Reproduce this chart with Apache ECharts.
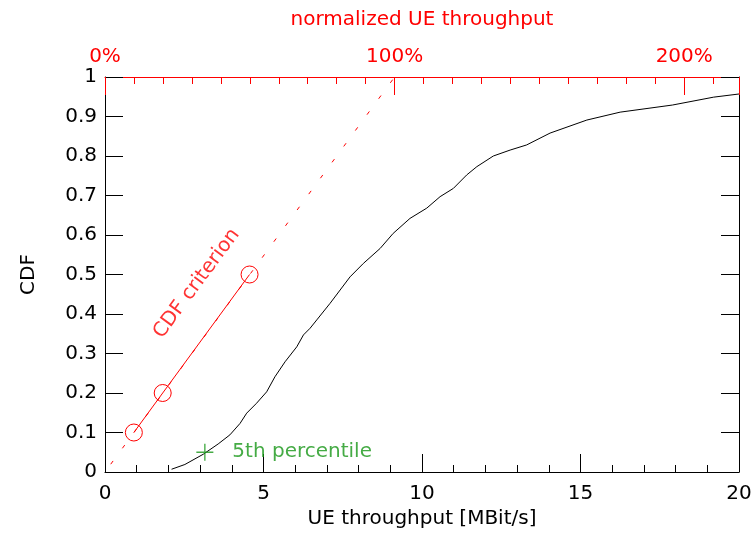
<!DOCTYPE html>
<html>
<head>
<meta charset="utf-8">
<script src="https://cdn.jsdelivr.net/npm/echarts@6/dist/echarts.min.js"></script>
<style>html,body{margin:0;padding:0;background:#fff}#c{width:755px;height:546px}</style>
</head>
<body>
<div id="c"></div>
<script>
// ---- data ----
const cdfX = [2.10, 2.52, 3.10, 3.57, 3.94, 4.26, 4.47, 4.78, 5.10, 5.36, 5.68, 6.05, 6.26, 6.47, 6.68, 7.10, 7.73, 8.15, 8.68, 9.09, 9.62, 10.15, 10.57, 10.99, 11.41, 11.73, 12.25, 12.78, 13.3, 14.04, 15.2, 16.25, 17.9, 19.2, 20.0];
const cdfY = [0.007, 0.019, 0.045, 0.071, 0.094, 0.123, 0.149, 0.174, 0.203, 0.241, 0.279, 0.317, 0.347, 0.364, 0.385, 0.427, 0.494, 0.528, 0.566, 0.604, 0.642, 0.668, 0.697, 0.718, 0.752, 0.773, 0.800, 0.815, 0.828, 0.858, 0.891, 0.911, 0.929, 0.949, 0.957];
const reference100 = 9.136;          // MBit/s corresponding to 100% normalized throughput
const criterionX = [0.91, 1.82, 4.56];
const criterionY = [0.1, 0.2, 0.5];
const criterionLineX = [0, reference100];
const criterionLineY = [0, 1];
const percentile5 = [3.15, 0.05];
const criterionLabelAt = [2.89, 0.477];
const xMax = 20;
const topMax = xMax / reference100 * 100;

const font = 'DejaVu Sans';
const fs = 20;
const green = '#169616';
const zip = (a, b) => a.map((v, i) => [v, b[i]]);

// layout of the plot rectangle
const W = 755, H = 546;
const L = 105, R = 16, T = 77, B = 74;
const plotW = W - L - R;
const pxPerPct = plotW / topMax;
const mainGrid = {left: L, right: R, top: T, bottom: B, containLabel: false};
// helper grids that carry the 10% minor ticks of the top axis
const minorGridA = {left: L, width: 200 * pxPerPct, top: T, bottom: B, containLabel: false};
const minorGridB = {left: L + 200 * pxPerPct, width: 20 * pxPerPct, top: T, bottom: B, containLabel: false};

const minorTopAxis = (grid, mn, mx, iv, split) => ({
  type: 'value', gridIndex: grid, position: 'top', min: mn, max: mx, interval: iv,
  axisLine: {show: false, onZero: false},
  axisTick: {show: false, inside: true},
  minorTick: {show: true, splitNumber: split, length: 7, lineStyle: {color: 'red', width: 1}},
  axisLabel: {show: false},
  splitLine: {show: false}, minorSplitLine: {show: false}
});
const hiddenY = grid => ({
  type: 'value', gridIndex: grid, position: 'left', min: 0, max: 1,
  axisLine: {show: false}, axisTick: {show: false}, axisLabel: {show: false}, splitLine: {show: false}
});

const chart = echarts.init(document.getElementById('c'), null, {renderer: 'canvas'});
chart.setOption({
  animation: false,
  backgroundColor: '#fff',
  textStyle: {fontFamily: font},
  grid: [mainGrid, minorGridA, minorGridB],
  xAxis: [
    {
      type: 'value', gridIndex: 0, position: 'bottom', min: 0, max: xMax, interval: 5,
      name: 'UE throughput [MBit/s]', nameLocation: 'middle', nameGap: 37,
      nameTextStyle: {fontSize: fs, color: '#000', fontFamily: font},
      axisLine: {show: true, onZero: false, lineStyle: {color: '#000', width: 1}},
      axisTick: {show: true, inside: true, length: 18, lineStyle: {color: '#000'}},
      minorTick: {show: true, splitNumber: 5, length: 7, lineStyle: {color: '#000'}},
      axisLabel: {fontSize: fs, color: '#000', margin: 12, fontFamily: font},
      splitLine: {show: false}
    },
    {
      type: 'value', gridIndex: 0, position: 'top', min: 0, max: topMax, interval: 100,
      name: 'normalized UE throughput', nameLocation: 'middle', nameGap: 47,
      nameTextStyle: {fontSize: fs, color: 'red', fontFamily: font},
      axisLine: {show: true, onZero: false, lineStyle: {color: 'red', width: 1}},
      axisTick: {show: true, inside: true, length: 18, lineStyle: {color: 'red'}},
      axisLabel: {fontSize: fs, color: 'red', margin: 10, fontFamily: font,
        formatter: v => (Math.abs(v % 100) < 1e-6 ? v + '%' : '')},
      splitLine: {show: false}
    },
    minorTopAxis(1, 0, 200, 100, 10),
    minorTopAxis(2, 200, 220, 20, 2)
  ],
  yAxis: [
    {
      type: 'value', gridIndex: 0, position: 'left', min: 0, max: 1, interval: 0.1,
      name: 'CDF', nameLocation: 'middle', nameGap: 66, nameRotate: 90,
      nameTextStyle: {fontSize: fs, color: '#000', fontFamily: font},
      axisLine: {show: true, onZero: false, lineStyle: {color: '#000', width: 1}},
      axisTick: {show: true, inside: true, length: 18, lineStyle: {color: '#000'}},
      axisLabel: {fontSize: fs, color: '#000', margin: 8, fontFamily: font,
        formatter: v => String(Math.round(v * 10) / 10)},
      splitLine: {show: false}
    },
    {
      type: 'value', gridIndex: 0, position: 'right', min: 0, max: 1, interval: 0.1,
      axisLine: {show: true, onZero: false, lineStyle: {color: '#000', width: 1}},
      axisTick: {show: true, inside: true, length: 18, lineStyle: {color: '#000'}},
      axisLabel: {show: false},
      splitLine: {show: false}
    },
    hiddenY(1),
    hiddenY(2)
  ],
  series: [
    {
      type: 'line', xAxisIndex: 0, yAxisIndex: 0,
      data: zip(cdfX, cdfY), showSymbol: false, symbol: 'none',
      lineStyle: {color: '#000', width: 1}, z: 3
    },
    {
      type: 'line', xAxisIndex: 0, yAxisIndex: 0,
      data: zip(criterionLineX, criterionLineY), symbol: 'none',
      lineStyle: {color: 'red', width: 1, type: [4, 15.7], dashOffset: 10}, z: 2
    },
    {
      type: 'line', xAxisIndex: 0, yAxisIndex: 0,
      data: zip(criterionX, criterionY), symbol: 'circle', symbolSize: 17, showSymbol: true,
      itemStyle: {color: 'rgba(255,255,255,0)', borderColor: 'red', borderWidth: 1},
      lineStyle: {color: 'red', width: 1}, z: 4
    },
    {
      type: 'scatter', xAxisIndex: 0, yAxisIndex: 0,
      data: [percentile5],
      symbol: 'path://M0,9.2 H20 V10.8 H0 Z M9.2,0 H10.8 V20 H9.2 Z', symbolSize: 17,
      itemStyle: {color: green},
      label: {show: true, position: 'right', distance: 19, formatter: '5th percentile',
        fontSize: fs, color: green, fontFamily: font},
      z: 5
    },
    {
      type: 'scatter', xAxisIndex: 0, yAxisIndex: 0,
      data: [criterionLabelAt], symbolSize: 0,
      label: {show: true, position: [0, 0], align: 'center', verticalAlign: 'middle',
        rotate: 53.5, formatter: 'CDF criterion', fontSize: fs, color: 'red', fontFamily: font},
      z: 5
    },
    {type: 'line', xAxisIndex: 2, yAxisIndex: 2, data: [], symbol: 'none', silent: true},
    {type: 'line', xAxisIndex: 3, yAxisIndex: 3, data: [], symbol: 'none', silent: true}
  ]
});
</script>
</body>
</html>
